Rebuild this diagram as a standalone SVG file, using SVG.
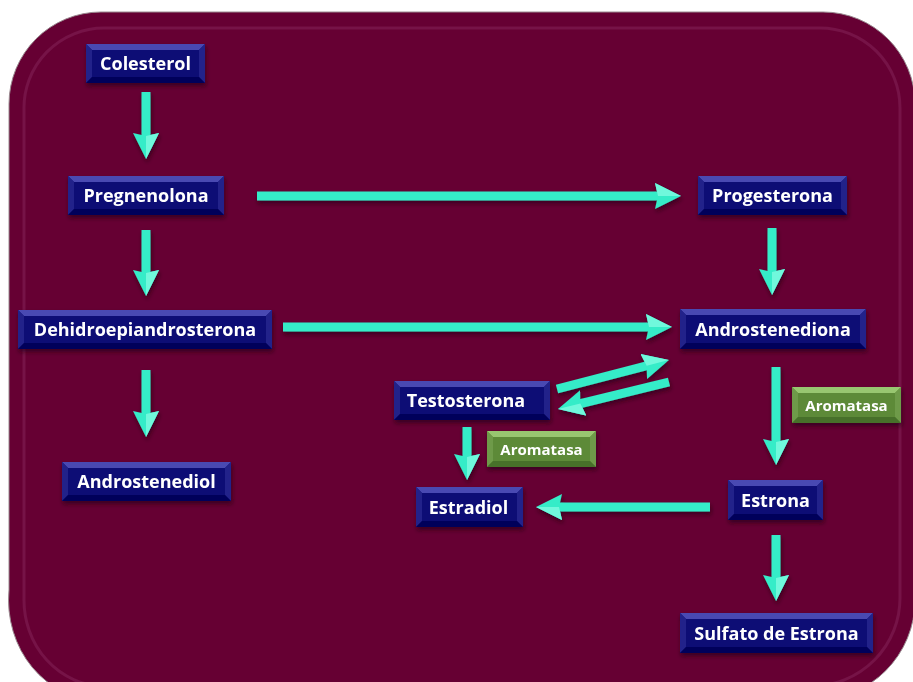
<svg xmlns="http://www.w3.org/2000/svg" width="913" height="682" viewBox="0 0 913 682">
<style>
.face{fill:#0c0c74}
.bt{fill:#4848b2}
.bs{fill:#20208a}
.bb{fill:#05055a}
.gface{fill:#5d8a38}
.gbt{fill:#98c670}
.gbs{fill:#6e9a48}
.gbb{fill:#46702a}
.lbl{font-family:"Open Sans","Liberation Sans",sans-serif;font-weight:bold;font-size:18px;fill:#ffffff;text-anchor:middle}
.glbl{font-family:"Open Sans","Liberation Sans",sans-serif;font-weight:bold;font-size:15px;fill:#ffffff;text-anchor:middle}
.shaft{stroke:#34ecc8;stroke-width:9;fill:none;marker-end:url(#head)}
</style>
<defs>
<marker id="head" markerUnits="userSpaceOnUse" markerWidth="28" markerHeight="28" viewBox="0 0 28 28" refX="6" refY="14" orient="auto">
<polygon points="0,1 26,14 0,27 3,14" fill="#34ecc8"/>
<polygon points="0,1 26,14 3,14" fill="#6ff8dc"/>
</marker>
<filter id="sh" x="-20%" y="-30%" width="140%" height="170%">
<feDropShadow dx="1" dy="3" stdDeviation="2" flood-color="#200010" flood-opacity="0.6"/>
</filter>
</defs>
<rect width="913" height="682" fill="#ffffff"/>
<path d="M9,104 A92,92 0 0 1 101,12 H823 A92,92 0 0 1 915,104 V600 A100,100 0 0 1 815,700 H100 A91,100 0 0 1 9,590 Z" fill="#660033" stroke="#9a8a90" stroke-width="1"/>
<path d="M24,110 A80,80 0 0 1 104,28 H820 A80,80 0 0 1 900,108 V598 A88,88 0 0 1 812,686 H104 A80,86 0 0 1 24,598 Z" fill="none" stroke="#8a2a60" stroke-width="3" opacity="0.45"/>

<g id="connectors" filter="url(#sh)">
<line class="shaft" x1="146" y1="92" x2="146" y2="139"/>
<line class="shaft" x1="146" y1="230" x2="146" y2="276"/>
<line class="shaft" x1="146" y1="370" x2="146" y2="417"/>
<line class="shaft" x1="257" y1="196" x2="661" y2="196"/>
<line class="shaft" x1="772" y1="228" x2="772" y2="275"/>
<line class="shaft" x1="283" y1="327" x2="652" y2="327"/>
<line class="shaft" x1="557" y1="389" x2="649.6" y2="365"/>
<line class="shaft" x1="669" y1="382" x2="577.4" y2="404.3"/>
<line class="shaft" x1="467" y1="427" x2="467" y2="460"/>
<line class="shaft" x1="776" y1="367" x2="776" y2="445"/>
<line class="shaft" x1="710" y1="507" x2="556" y2="507"/>
<line class="shaft" x1="776" y1="535" x2="776" y2="581"/>
</g>

<g id="colesterol" transform="translate(86,44)" filter="url(#sh)">
<rect class="face" width="119" height="39"/>
<polygon class="bt" points="0,0 119,0 113,6 6,6"/><polygon class="bs" points="0,0 6,6 6,33 0,39"/><polygon class="bs" points="119,0 119,39 113,33 113,6"/><polygon class="bb" points="0,39 6,33 113,33 119,39"/>
<text class="lbl" x="59.5" y="26">Colesterol</text>
</g>
<g id="pregnenolona" transform="translate(68,176)" filter="url(#sh)">
<rect class="face" width="156" height="39"/>
<polygon class="bt" points="0,0 156,0 150,6 6,6"/><polygon class="bs" points="0,0 6,6 6,33 0,39"/><polygon class="bs" points="156,0 156,39 150,33 150,6"/><polygon class="bb" points="0,39 6,33 150,33 156,39"/>
<text class="lbl" x="78" y="26">Pregnenolona</text>
</g>
<g id="progesterona" transform="translate(698,176)" filter="url(#sh)">
<rect class="face" width="149" height="39"/>
<polygon class="bt" points="0,0 149,0 143,6 6,6"/><polygon class="bs" points="0,0 6,6 6,33 0,39"/><polygon class="bs" points="149,0 149,39 143,33 143,6"/><polygon class="bb" points="0,39 6,33 143,33 149,39"/>
<text class="lbl" x="74.5" y="26">Progesterona</text>
</g>
<g id="dehidroepiandrosterona" transform="translate(18,310)" filter="url(#sh)">
<rect class="face" width="254" height="39"/>
<polygon class="bt" points="0,0 254,0 248,6 6,6"/><polygon class="bs" points="0,0 6,6 6,33 0,39"/><polygon class="bs" points="254,0 254,39 248,33 248,6"/><polygon class="bb" points="0,39 6,33 248,33 254,39"/>
<text class="lbl" x="127" y="26">Dehidroepiandrosterona</text>
</g>
<g id="androstenediona" transform="translate(680,309)" filter="url(#sh)">
<rect class="face" width="186" height="40"/>
<polygon class="bt" points="0,0 186,0 180,6 6,6"/><polygon class="bs" points="0,0 6,6 6,34 0,40"/><polygon class="bs" points="186,0 186,40 180,34 180,6"/><polygon class="bb" points="0,40 6,34 180,34 186,40"/>
<text class="lbl" x="93" y="26.5">Androstenediona</text>
</g>
<g id="testosterona" transform="translate(394,381)" filter="url(#sh)">
<rect class="face" width="156" height="39"/>
<polygon class="bt" points="0,0 156,0 150,6 6,6"/><polygon class="bs" points="0,0 6,6 6,33 0,39"/><polygon class="bs" points="156,0 156,39 150,33 150,6"/><polygon class="bb" points="0,39 6,33 150,33 156,39"/>
<text class="lbl" x="72" y="26">Testosterona</text>
</g>
<g id="androstenediol" transform="translate(62,462)" filter="url(#sh)">
<rect class="face" width="169" height="39"/>
<polygon class="bt" points="0,0 169,0 163,6 6,6"/><polygon class="bs" points="0,0 6,6 6,33 0,39"/><polygon class="bs" points="169,0 169,39 163,33 163,6"/><polygon class="bb" points="0,39 6,33 163,33 169,39"/>
<text class="lbl" x="84.5" y="26">Androstenediol</text>
</g>
<g id="estradiol" transform="translate(416,487)" filter="url(#sh)">
<rect class="face" width="107" height="40"/>
<polygon class="bt" points="0,0 107,0 101,6 6,6"/><polygon class="bs" points="0,0 6,6 6,34 0,40"/><polygon class="bs" points="107,0 107,40 101,34 101,6"/><polygon class="bb" points="0,40 6,34 101,34 107,40"/>
<text class="lbl" x="52.5" y="26.5">Estradiol</text>
</g>
<g id="estrona" transform="translate(728,480)" filter="url(#sh)">
<rect class="face" width="95" height="40"/>
<polygon class="bt" points="0,0 95,0 89,6 6,6"/><polygon class="bs" points="0,0 6,6 6,34 0,40"/><polygon class="bs" points="95,0 95,40 89,34 89,6"/><polygon class="bb" points="0,40 6,34 89,34 95,40"/>
<text class="lbl" x="47.5" y="26.5">Estrona</text>
</g>
<g id="sulfato-de-estrona" transform="translate(680,613)" filter="url(#sh)">
<rect class="face" width="193" height="40"/>
<polygon class="bt" points="0,0 193,0 187,6 6,6"/><polygon class="bs" points="0,0 6,6 6,34 0,40"/><polygon class="bs" points="193,0 193,40 187,34 187,6"/><polygon class="bb" points="0,40 6,34 187,34 193,40"/>
<text class="lbl" x="96.5" y="26.5">Sulfato de Estrona</text>
</g>
<g id="aromatasa-1" transform="translate(487,431)" filter="url(#sh)">
<rect class="gface" width="109" height="36"/>
<polygon class="gbt" points="0,0 109,0 103,6 6,6"/><polygon class="gbs" points="0,0 6,6 6,30 0,36"/><polygon class="gbs" points="109,0 109,36 103,30 103,6"/><polygon class="gbb" points="0,36 6,30 103,30 109,36"/>
<text class="glbl" x="54.5" y="23.5">Aromatasa</text>
</g>
<g id="aromatasa-2" transform="translate(792,387)" filter="url(#sh)">
<rect class="gface" width="109" height="36"/>
<polygon class="gbt" points="0,0 109,0 103,6 6,6"/><polygon class="gbs" points="0,0 6,6 6,30 0,36"/><polygon class="gbs" points="109,0 109,36 103,30 103,6"/><polygon class="gbb" points="0,36 6,30 103,30 109,36"/>
<text class="glbl" x="54.5" y="23.5">Aromatasa</text>
</g>
</svg>
